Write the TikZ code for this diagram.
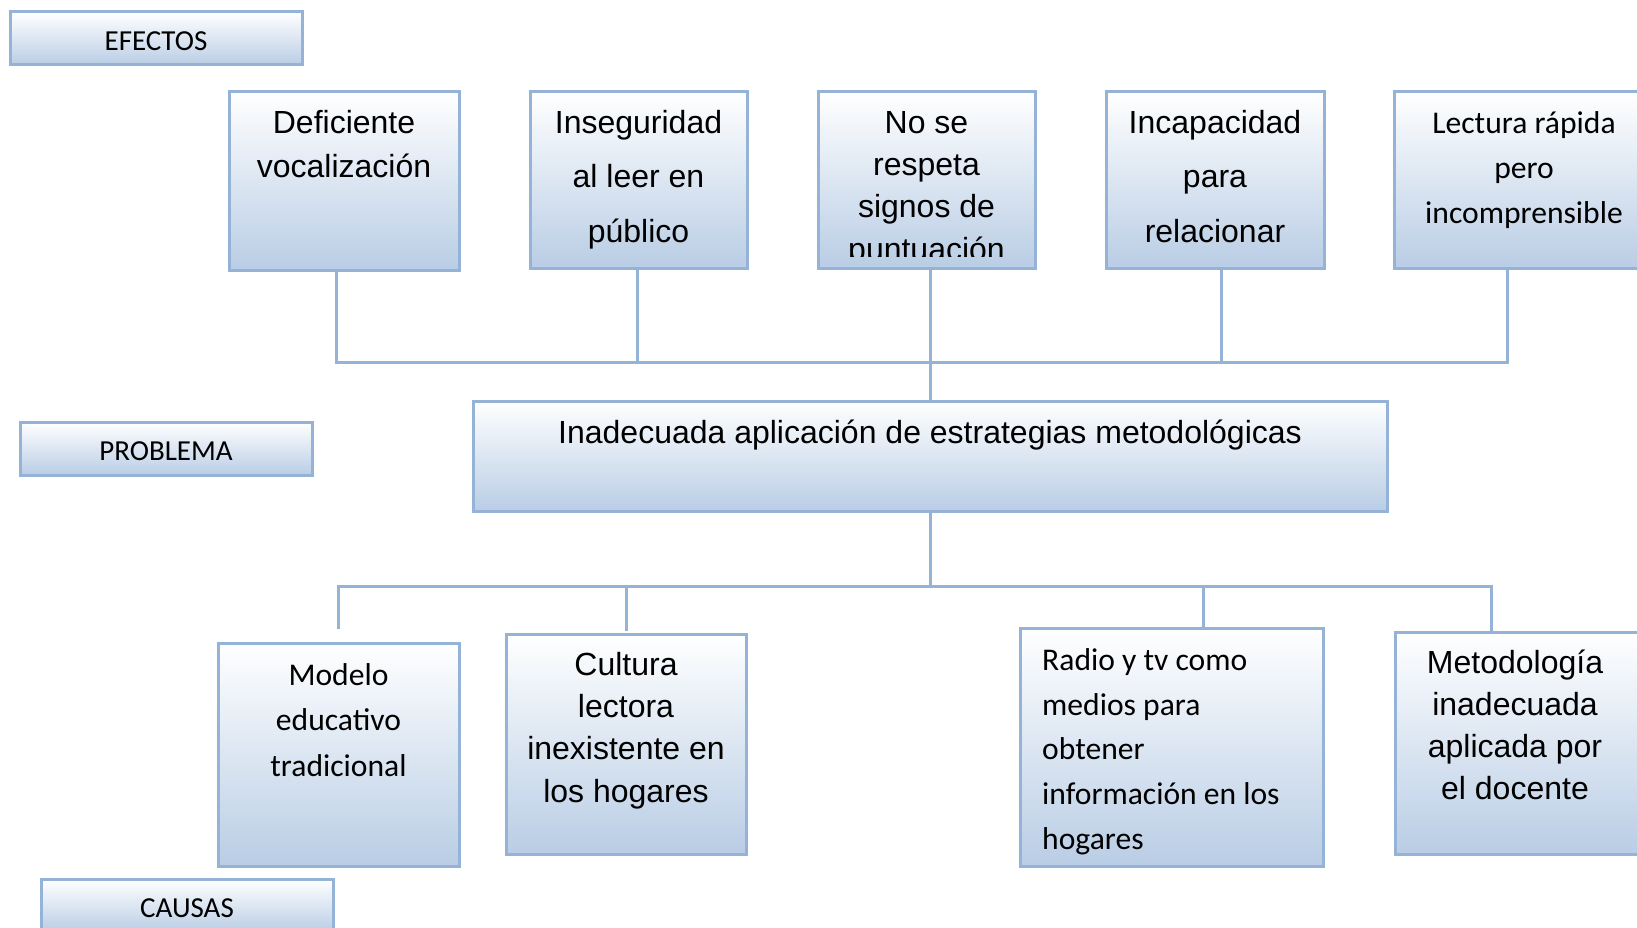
\documentclass[tikz,border=0pt]{standalone}
\usepackage{fontspec}
\setmainfont{Liberation Sans}
\newfontfamily\calibri{Carlito}
\usetikzlibrary{positioning}
\definecolor{bordeazul}{RGB}{149,179,215}
\definecolor{fondoazul}{RGB}{185,205,229}
\newcommand{\alto}{\rule{0pt}{30pt}}

\begin{document}
\begin{tikzpicture}[x=1pt, y=-1pt,
    caja/.style={draw=bordeazul, line width=3pt, top color=white, bottom color=fondoazul, inner sep=0pt, outer sep=0pt, anchor=north west},
    etiqueta/.style={caja, minimum width=292, minimum height=53, font=\calibri\fontsize{29}{29}\selectfont, text height=24.7pt, text depth=0pt},
    arial/.style={anchor=north, align=center, inner sep=0pt, font=\fontsize{32}{#1}\selectfont},
    calibri/.style={anchor=north, align=center, inner sep=0pt, font=\calibri\fontsize{31.6}{#1}\selectfont},
    linea/.style={draw=bordeazul, line width=3pt, line cap=rect}]
    \clip (0,0) rectangle (1637,928);
    % etiquetas
    \node[etiqueta] (efectos) at (10,12) {EFECTOS};
    \node[etiqueta] (problem) at (20,422) {PROBLEMA};
    \node[etiqueta] (causas) at (41,879) {CAUSAS};

    % efectos
    \node[caja, minimum width=230, minimum height=178] (defic) at (229,92) {};
    \node[caja, minimum width=217, minimum height=176] (inseg) at (530,92) {};
    \node[caja, minimum width=217, minimum height=176] (signos) at (818,92) {};
    \node[caja, minimum width=218, minimum height=176] (incap) at (1106,92) {};
    \node[caja, minimum width=260, minimum height=176] (lectura) at (1394,92) {};
    \node[arial=44, below=11pt of defic.north] {\alto Deficiente\\vocalización};
    \node[arial=54.5, below=11pt of inseg.north] {\alto Inseguridad\\al leer en\\público};
    \begin{scope}
        \clip (signos.north west) rectangle ([yshift=12pt]signos.south east);
        \node[arial=42.3, below=11pt of signos.north] {\alto No se\\respeta\\signos de\\puntuación};
    \end{scope}
    \node[arial=54.5, below=11pt of incap.north] {\alto Incapacidad\\para\\relacionar};
    \node[calibri=45, below=11pt of lectura.north] {\alto Lectura rápida\\pero\\incomprensible};

    % problema
    \node[caja, minimum width=914, minimum height=110] (problema) at (473,401) {};
    \node[arial=44, below=12pt of problema.north] {\alto Inadecuada aplicación de estrategias metodológicas};

    % causas
    \node[caja, minimum width=241, minimum height=223] (modelo) at (218,643) {};
    \node[caja, minimum width=240, minimum height=220] (cultura) at (506,634) {};
    \node[caja, minimum width=303, minimum height=238] (radio) at (1020,628) {};
    \node[caja, minimum width=250, minimum height=222] (metod) at (1395,632) {};
    \node[calibri=45.5, below=12pt of modelo.north] {\alto Modelo\\educativo\\tradicional};
    \node[arial=42.3, below=11pt of cultura.north] {\alto Cultura\\lectora\\inexistente en\\los hogares};
    \node[calibri=44.8, align=left, anchor=north west] at ([xshift=22pt, yshift=-12pt]radio.north west) {\alto Radio y tv como\\medios para\\obtener\\información en los\\hogares};
    \node[arial=42, below=11pt of metod.north, xshift=-5pt] {\alto Metodología\\inadecuada\\aplicada por\\el docente};

    % conectores de efectos
    \coordinate (bE1) at (336,362);
    \coordinate (bE2) at (637,362);
    \coordinate (bE3) at (930,362);
    \coordinate (bE4) at (1221,362);
    \coordinate (bE5) at (1507,362);
    \draw[linea] (bE1 |- defic.south) -- (bE1);
    \draw[linea] (bE2 |- inseg.south) -- (bE2);
    \draw[linea] (bE3 |- signos.south) -- (bE3);
    \draw[linea] (bE4 |- incap.south) -- (bE4);
    \draw[linea] (bE5 |- lectura.south) -- (bE5);
    \draw[linea] (bE1) -- (bE5);
    \draw[linea] (problema.north) -- (problema.north |- bE1);

    % conectores de causas
    \coordinate (bC1) at (338,586);
    \coordinate (bC2) at (626,586);
    \coordinate (bC3) at (1203,586);
    \coordinate (bC4) at (1491,586);
    \coordinate (fC1) at (338,627);
    \coordinate (fC2) at (626,629);
    \draw[linea] (problema.south) -- (problema.south |- bC1);
    \draw[linea] (bC1) -- (bC4);
    \draw[linea] (bC1) -- (fC1);
    \draw[linea] (bC2) -- (fC2);
    \draw[linea] (bC3) -- (bC3 |- radio.north);
    \draw[linea] (bC4) -- (bC4 |- metod.north);
\end{tikzpicture}
\end{document}
